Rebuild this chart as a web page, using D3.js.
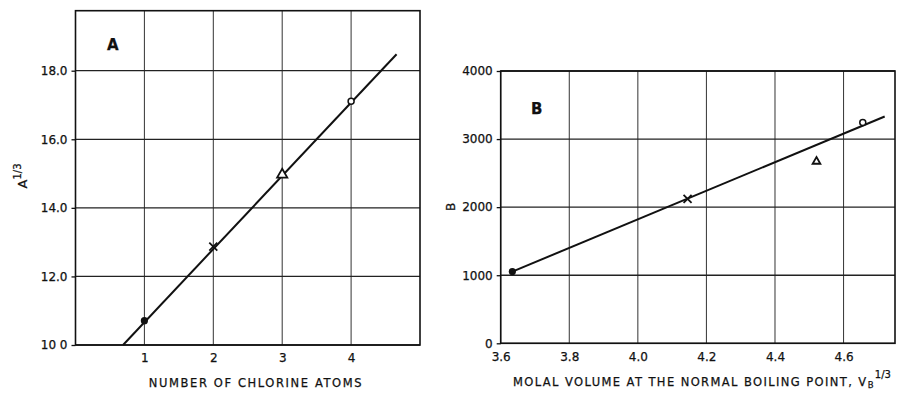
<!DOCTYPE html>
<html>
<head>
<meta charset="utf-8">
<script src="https://cdn.jsdelivr.net/npm/d3@7"></script>
<style>
  body { margin: 0; background: #fff; }
  svg { display: block; }
  text { font-family: "DejaVu Sans", sans-serif; fill: #111; stroke: #111; stroke-width: 0.25px; }
</style>
</head>
<body>
<svg id="chart" width="911" height="393"></svg>
<script>
// panel A data
var chlorineAtoms = [1, 2, 3, 4];
var aCubeRoot = [10.71, 12.87, 14.94, 17.11];
var fitAtoms = [0.69, 4.66];
var fitA = [10.0, 18.48];
var aTicksY = [10, 12, 14, 16, 18];
var aTickLabelsY = ["10 0", "12.0", "14.0", "16.0", "18.0"];
var aTicksX = [1, 2, 3, 4];

// panel B data
var molalVolume = [3.634, 4.145, 4.521, 4.656];
var bValues = [1053, 2122, 2656, 3244];
var fitVolume = [3.634, 4.72];
var fitB = [1053, 3332];
var bTicksY = [0, 1000, 2000, 3000, 4000];
var bTicksX = [3.6, 3.8, 4.0, 4.2, 4.4, 4.6];

// marker per compound (same order in both panels)
var markers = ["dot", "cross", "triangle", "ring"];

var svg = d3.select("#chart");

function drawMarker(g, kind, cx, cy, triSize) {
  if (kind == "dot") {
    g.append("circle").attr("cx", cx).attr("cy", cy).attr("r", 3.6)
      .attr("fill", "#111");
  } else if (kind == "cross") {
    g.append("path")
      .attr("d", "M" + (cx - 4) + "," + (cy - 4) + "L" + (cx + 4) + "," + (cy + 4) +
                 "M" + (cx + 4) + "," + (cy - 4) + "L" + (cx - 4) + "," + (cy + 4))
      .attr("stroke", "#111").attr("stroke-width", 1.8).attr("fill", "none");
  } else if (kind == "triangle") {
    g.append("path")
      .attr("d", d3.symbol().type(d3.symbolTriangle).size(triSize)())
      .attr("transform", "translate(" + cx + "," + (cy - 1) + ")")
      .attr("stroke", "#111").attr("stroke-width", 1.8).attr("fill", "#fff");
  } else {
    g.append("circle").attr("cx", cx).attr("cy", cy).attr("r", 3)
      .attr("stroke", "#111").attr("stroke-width", 1.5).attr("fill", "#fff");
  }
}

function drawPanel(opt) {
  var x = d3.scaleLinear().domain(opt.xDomain).range(opt.xRange);
  var y = d3.scaleLinear().domain(opt.yDomain).range(opt.yRange);
  var g = svg.append("g");

  // grid
  g.selectAll(".gx").data(opt.xTicks).enter().append("line")
    .attr("x1", d => x(d)).attr("x2", d => x(d))
    .attr("y1", opt.yRange[0]).attr("y2", opt.yRange[1])
    .attr("stroke", "#333").attr("stroke-width", 1);
  g.selectAll(".gy").data(opt.yTicks).enter().append("line")
    .attr("x1", opt.xRange[0]).attr("x2", opt.xRange[1])
    .attr("y1", d => y(d)).attr("y2", d => y(d))
    .attr("stroke", "#222").attr("stroke-width", 1.3);

  // frame
  g.append("rect")
    .attr("x", opt.xRange[0]).attr("y", opt.yRange[1])
    .attr("width", opt.xRange[1] - opt.xRange[0])
    .attr("height", opt.yRange[0] - opt.yRange[1])
    .attr("fill", "none").attr("stroke", "#111").attr("stroke-width", 1.6);

  // y axis
  var ya = g.append("g")
    .attr("transform", "translate(" + opt.xRange[0] + ",0)")
    .call(d3.axisLeft(y).tickValues(opt.yTicks).tickSize(4).tickSizeOuter(0)
      .tickFormat((d, i) => opt.yLabels[i]));
  ya.select(".domain").remove();
  ya.selectAll("line").attr("stroke", "#111").attr("stroke-width", 1.3);
  ya.selectAll("text").attr("font-size", 12).attr("font-family", "DejaVu Sans")
    .attr("fill", "#111").attr("dx", "-1");

  // x axis
  var xa = g.append("g")
    .attr("transform", "translate(0," + opt.yRange[0] + ")")
    .call(d3.axisBottom(x).tickValues(opt.xTicks).tickSize(0)
      .tickFormat(opt.xFormat));
  xa.select(".domain").remove();
  xa.selectAll("text").attr("font-size", 12).attr("font-family", "DejaVu Sans")
    .attr("fill", "#111").attr("dy", "1.2em");

  // fitted line
  var fit = d3.zip(opt.fitX, opt.fitY);
  g.append("path").datum(fit)
    .attr("d", d3.line().x(d => x(d[0])).y(d => y(d[1])))
    .attr("stroke", "#111").attr("stroke-width", 2).attr("fill", "none");

  // points
  opt.px.forEach(function (v, i) {
    drawMarker(g, markers[i], x(v), y(opt.py[i]), opt.triSize);
  });

  // panel letter
  g.append("text").attr("x", opt.letterPos[0]).attr("y", opt.letterPos[1])
    .attr("font-size", 15).attr("font-weight", "bold").text(opt.letter);

  return g;
}

var gA = drawPanel({
  xDomain: [0, 5], xRange: [75.5, 420],
  yDomain: [10, 19.75], yRange: [345, 10.7],
  xTicks: aTicksX, yTicks: aTicksY, yLabels: aTickLabelsY,
  xFormat: d3.format("d"),
  fitX: fitAtoms, fitY: fitA, px: chlorineAtoms, py: aCubeRoot,
  triSize: 45,
  letter: "A", letterPos: [107, 50]
});

var gB = drawPanel({
  xDomain: [3.6, 4.75], xRange: [500.7, 895],
  yDomain: [0, 4000], yRange: [343.3, 71],
  xTicks: bTicksX, yTicks: bTicksY, yLabels: bTicksY.map(String),
  xFormat: d3.format(".1f"),
  fitX: fitVolume, fitY: fitB, px: molalVolume, py: bValues,
  triSize: 26,
  letter: "B", letterPos: [531, 114]
});

// axis titles
var yA = svg.append("text").attr("transform", "translate(27,176) rotate(-90)")
  .attr("text-anchor", "middle").attr("font-size", 13);
yA.append("tspan").text("A");
yA.append("tspan").attr("font-size", 10).attr("dy", "-6").text("1/3");

svg.append("text").attr("transform", "translate(455,207) rotate(-90)")
  .attr("text-anchor", "middle").attr("font-size", 12).text("B");

svg.append("text").attr("x", 256).attr("y", 387)
  .attr("text-anchor", "middle").attr("font-size", 11.5)
  .attr("letter-spacing", "1.6").text("NUMBER OF CHLORINE ATOMS");

var xB = svg.append("text").attr("x", 513).attr("y", 386)
  .attr("font-size", 11.5).attr("letter-spacing", "1.4");
xB.append("tspan").text("MOLAL VOLUME AT THE NORMAL BOILING POINT, V");
xB.append("tspan").attr("font-size", 8.5).attr("dy", "2").text("B");
xB.append("tspan").attr("font-size", 10).attr("dy", "-10").attr("letter-spacing", "0").text("1/3");
</script>
</body>
</html>
